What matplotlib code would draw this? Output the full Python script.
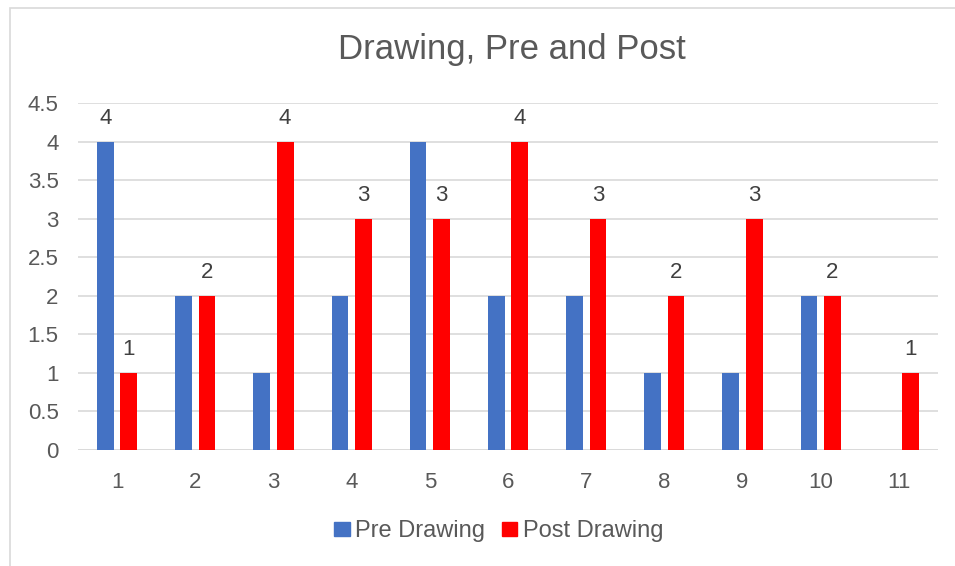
import matplotlib.pyplot as plt
from matplotlib.patches import Patch, Rectangle

categories = [1, 2, 3, 4, 5, 6, 7, 8, 9, 10, 11]
pre_drawing = [4, 2, 1, 2, 4, 2, 2, 1, 1, 2, 0]
post_drawing = [1, 2, 4, 3, 3, 4, 3, 2, 3, 2, 1]
y_ticks = [0, 0.5, 1, 1.5, 2, 2.5, 3, 3.5, 4, 4.5]

blue = '#4472C4'
red = '#FF0000'
grey_text = '#595959'
grid_col = '#D9D9D9'

plt.rcParams['font.family'] = ['Liberation Sans', 'DejaVu Sans']

fig = plt.figure(figsize=(9.55, 5.66), dpi=100)
fig.patch.set_facecolor('white')
# light frame of the chart area (cropped at right/bottom)
fig.patches.append(Rectangle((10 / 955, -0.1), 1.2, 1.1 - 8 / 566, transform=fig.transFigure,
                             fill=False, edgecolor='#D9D9D9', linewidth=1.2))

ax = fig.add_axes([78 / 955, 1 - 450 / 566, (938 - 78) / 955, (450 - 103) / 566])

w = 0.215
off = 0.15
pre_x = [c - off for c in categories]
post_x = [c + off for c in categories]
ax.bar(pre_x, pre_drawing, width=w, color=blue, zorder=3)
ax.bar(post_x, post_drawing, width=w, color=red, zorder=3)

# data labels: post series and the first pre bar
lab_kw = dict(xytext=(0, 13), textcoords='offset pixels', ha='center', va='bottom',
              fontsize=16, color='#404040')
for x, v in zip(post_x, post_drawing):
    ax.annotate(str(v), (x, v), **lab_kw)
ax.annotate(str(pre_drawing[0]), (pre_x[0], pre_drawing[0]), **lab_kw)

ax.set_xlim(0.5, 11.5)
ax.set_ylim(0, 4.5)
ax.set_yticks(y_ticks)
ax.set_yticklabels([f'{t:g}' for t in y_ticks])
ax.set_xticks(categories)
ax.set_xticklabels([str(c) for c in categories])
ax.tick_params(axis='both', length=0, labelsize=16, labelcolor=grey_text)
ax.tick_params(axis='x', pad=16)
ax.tick_params(axis='y', pad=14)
ax.grid(axis='y', color=grid_col, linewidth=1.2, zorder=0)
for s in ax.spines.values():
    s.set_visible(False)
ax.axhline(0, color=grid_col, linewidth=1.2, zorder=2)

fig.text(512 / 955, 1 - 59 / 566, 'Drawing, Pre and Post', ha='center', va='baseline',
         fontsize=25, color=grey_text)

handles = [Patch(color=blue, label='Pre Drawing'), Patch(color=red, label='Post Drawing')]
fig.legend(handles=handles, loc='center', bbox_to_anchor=(499 / 955, 1 - 531 / 566), ncol=2,
           frameon=False, fontsize=17, handlelength=0.65, handleheight=0.55,
           handletextpad=0.25, columnspacing=0.7, labelcolor=grey_text)

fig.savefig('out.png', dpi=100)
